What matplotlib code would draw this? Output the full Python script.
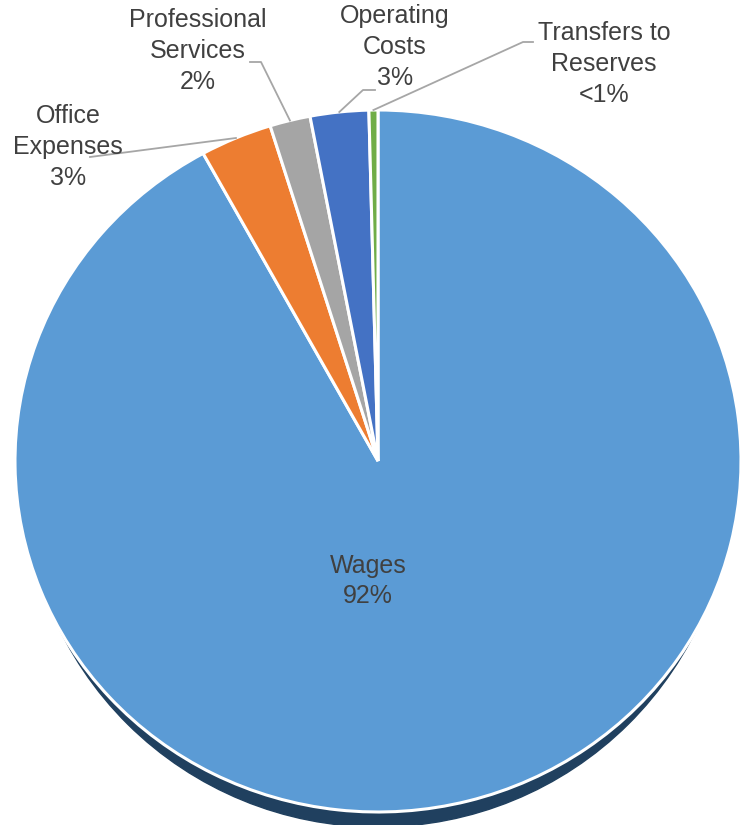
import matplotlib
matplotlib.use("Agg")
import matplotlib.pyplot as plt
from matplotlib.patches import Ellipse
import numpy as np

# expense breakdown
categories = ["Wages", "Office\nExpenses", "Professional\nServices", "Operating\nCosts", "Transfers to\nReserves"]
shares = [92.0, 3.2, 1.8, 2.6, 0.4]
share_labels = ["92%", "3%", "2%", "3%", "<1%"]
colors = ["#5B9BD5", "#ED7D31", "#A5A5A5", "#4472C4", "#70AD47"]

W, H = 742, 825
CX, CY = 378, 461          # pie centre in pixels (from top-left)
RX, RY = 363, 351          # horizontal / vertical radius in pixels

plt.rcParams['font.family'] = ['Liberation Sans', 'DejaVu Sans']
TEXT_COLOR = "#404040"
LINE_COLOR = "#A6A6A6"


def px(x, y):
    """pixel position -> data coordinates of the unit pie"""
    return (x - CX) / RX, (CY - y) / RY


fig = plt.figure(figsize=(W / 100, H / 100), dpi=100)
ax = fig.add_axes([0, 0, 1, 1])

# drop shadow under the pie
ax.add_patch(Ellipse((0, -15 / RY), 2 * 0.975, 2.0, color="#20405F", zorder=0))

wedges, _ = ax.pie(shares, colors=colors, startangle=90, counterclock=False,
                   radius=1.0, center=(0, 0), frame=True,
                   wedgeprops=dict(edgecolor="white", linewidth=2.2))
ax.set_aspect("auto")
ax.set_xlim(-CX / RX, (W - CX) / RX)
ax.set_ylim(-(H - CY) / RY, CY / RY)
ax.axis("off")
for w in wedges:
    w.set_zorder(1)

# label block centres and leader-line start points (pixels)
label_pos = [(368, 581), (68, 147), (198, 51), (395, 47), (604, 64)]
leader_start = [None, [(90, 157)], [(250, 62), (261, 62)],
                [(375, 90), (363, 90)], [(533, 42), (523, 42)]]

for i, w in enumerate(wedges):
    x, y = px(*label_pos[i])
    ax.text(x, y, categories[i] + "\n" + share_labels[i], ha="center", va="center",
            fontsize=18, color=TEXT_COLOR, linespacing=1.36, zorder=3)
    if leader_start[i] is None:
        continue
    mid = np.deg2rad((w.theta1 + w.theta2) / 2)
    pts = [px(*p) for p in leader_start[i]] + [(np.cos(mid), np.sin(mid))]
    xs, ys = zip(*pts)
    ax.plot(xs, ys, color=LINE_COLOR, lw=1.3, zorder=2)

fig.savefig("out.png", dpi=100)
